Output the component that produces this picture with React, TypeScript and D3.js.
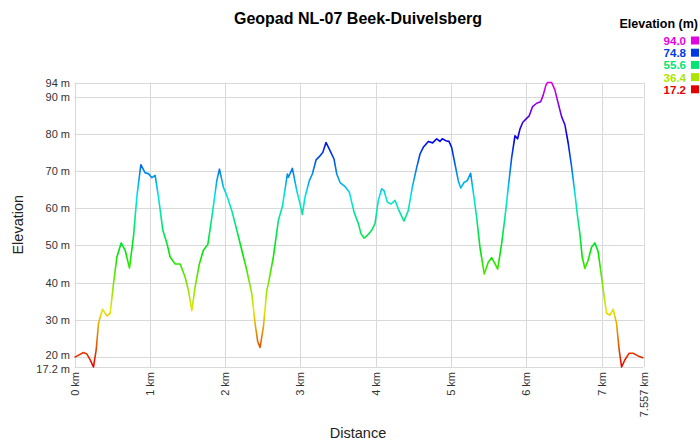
import * as d3 from "d3";

// distance along the route (km) and elevation (m)
const distances = [
  0.0, 0.119, 0.165, 0.208, 0.252, 0.288, 0.319, 0.372, 0.43, 0.474, 0.518, 0.563, 0.62, 0.673, 0.73,
  0.783, 0.828, 0.881, 0.938, 0.982, 1.027, 1.071, 1.115, 1.173, 1.226, 1.27, 1.337, 1.403, 1.469,
  1.513, 1.558, 1.602, 1.659, 1.712, 1.771, 1.824, 1.89, 1.925, 1.978, 2.023, 2.089, 2.156, 2.222,
  2.288, 2.355, 2.398, 2.434, 2.465, 2.509, 2.554, 2.575, 2.641, 2.708, 2.761, 2.827, 2.84, 2.894,
  2.952, 2.996, 3.026, 3.062, 3.119, 3.159, 3.208, 3.261, 3.297, 3.341, 3.394, 3.447, 3.483, 3.527,
  3.593, 3.65, 3.713, 3.77, 3.805, 3.845, 3.889, 3.947, 3.991, 4.035, 4.08, 4.111, 4.155, 4.204,
  4.257, 4.31, 4.376, 4.433, 4.486, 4.545, 4.589, 4.632, 4.699, 4.757, 4.81, 4.854, 4.885, 4.93,
  4.973, 5.009, 5.053, 5.097, 5.129, 5.173, 5.216, 5.261, 5.305, 5.341, 5.385, 5.442, 5.495, 5.54,
  5.584, 5.62, 5.673, 5.717, 5.761, 5.806, 5.85, 5.885, 5.916, 5.952, 5.995, 6.039, 6.084, 6.138,
  6.191, 6.225, 6.261, 6.283, 6.337, 6.38, 6.424, 6.469, 6.513, 6.557, 6.602, 6.646, 6.676, 6.712,
  6.743, 6.779, 6.822, 6.868, 6.911, 6.955, 7.0, 7.035, 7.067, 7.11, 7.154, 7.199, 7.234, 7.266,
  7.309, 7.366, 7.42, 7.486, 7.557,
];

const elevations = [
  19.8, 21.1, 20.7, 19.1, 17.2, 21.8, 29.0, 32.8, 31.0, 31.7, 39.7, 46.9, 50.7, 48.7, 43.9,
  52.3, 63.1, 71.8, 69.6, 69.4, 68.3, 68.9, 63.1, 54.1, 50.7, 46.9, 45.0, 45.0, 41.5,
  37.9, 32.4, 38.8, 45.1, 48.7, 50.3, 57.6, 67.5, 70.6, 65.7, 63.5, 59.4, 54.1, 48.7,
  43.3, 37.0, 29.0, 24.0, 22.5, 28.1, 37.9, 39.7, 46.9, 56.8, 60.5, 69.3, 68.4, 70.8,
  64.8, 61.2, 58.4, 63.1, 67.5, 69.3, 73.1, 74.2, 75.1, 77.8, 75.6, 73.3, 69.3, 67.0,
  65.9, 64.4, 59.0, 55.9, 53.2, 52.0, 52.7, 54.1, 55.9, 62.2, 65.3, 64.8, 61.7, 61.2,
  62.2, 59.4, 56.6, 59.4, 65.7, 71.1, 74.7, 76.5, 78.1, 77.7, 78.8, 78.1, 78.8, 78.3,
  78.1, 76.5, 72.0, 67.5, 65.5, 67.0, 67.5, 69.5, 63.1, 57.6, 49.5, 42.3, 45.5, 46.7,
  45.1, 43.6, 50.5, 57.6, 65.7, 73.7, 79.6, 78.8, 81.4, 83.2, 84.1, 85.0, 87.5, 88.4,
  88.8, 90.6, 93.3, 94.0, 94.0, 92.0, 88.4, 84.8, 82.6, 77.6, 71.3, 64.1, 58.7, 53.2,
  46.9, 43.8, 46.0, 49.6, 50.7, 48.3, 41.5, 36.1, 31.7, 31.2, 32.8, 29.0, 21.8, 17.2,
  19.1, 20.9, 20.9, 20.2, 19.6,
];

const yTicks = [20, 30, 40, 50, 60, 70, 80, 90];
const xTicks = [0, 1, 2, 3, 4, 5, 6, 7];
const legendValues = [94.0, 74.8, 55.6, 36.4, 17.2];

const minEle = 17.2;
const maxEle = 94;
const totalKm = 7.557;

const W = 700;
const H = 441;
const font = "'Liberation Sans', Arial, sans-serif";

export default function App() {
  const x = d3.scaleLinear().domain([0, totalKm]).range([74.5, 643.5]);
  const y = d3.scaleLinear().domain([minEle, maxEle]).range([367, 82.5]);

  // hue runs red -> yellow -> green -> cyan -> blue -> magenta with elevation
  const hue = d3.scaleLinear().domain([minEle, maxEle]).range([0, 300]);
  const colorOf = (e: number) => d3.hsl(hue(e), 1, 0.45).formatHex();

  const pts = distances.map((d, i) => [d, elevations[i]] as [number, number]);
  const line = d3
    .line<[number, number]>()
    .x((d) => x(d[0]))
    .y((d) => y(d[1]));

  const stops = d3.range(0, 11).map((i) => minEle + ((maxEle - minEle) * i) / 10);
  const gridColor = "#d9d9d9";
  const snap = (v: number) => Math.round(v) + 0.5;

  // the two lowest labels sit close together; nudge them apart a little
  const labelShift = (t: number) => (t === 20 ? -1.5 : t === minEle ? 1.5 : 0);

  return (
    <svg width={W} height={H} style={{ position: "absolute", left: 0, top: 0, fontFamily: font }}>
      <defs>
        <linearGradient id="eleGrad" gradientUnits="userSpaceOnUse" x1={0} x2={0} y1={y(minEle)} y2={y(maxEle)}>
          {stops.map((s, i) => (
            <stop key={i} offset={i / 10} stopColor={colorOf(s)} />
          ))}
        </linearGradient>
      </defs>
      <rect width={W} height={H} fill="#fff" />

      {/* grid */}
      {[...yTicks, maxEle, minEle].map((t) => (
        <line key={"gy" + t} x1={x(0)} x2={x(totalKm)} y1={snap(y(t))} y2={snap(y(t))} stroke={gridColor} />
      ))}
      {[...xTicks, totalKm].map((t) => (
        <line key={"gx" + t} x1={snap(x(t))} x2={snap(x(t))} y1={y(maxEle)} y2={y(minEle)} stroke={gridColor} />
      ))}

      {/* profile */}
      <path d={line(pts) || ""} fill="none" stroke="url(#eleGrad)" strokeWidth={1.6} strokeLinejoin="round" />

      {/* y tick labels */}
      {[...yTicks, maxEle, minEle].map((t) => (
        <text key={"ty" + t} x={70} y={y(t) + 4 + labelShift(t)} textAnchor="end" fontSize={11} fill="#333">
          {t} m
        </text>
      ))}

      {/* x tick labels */}
      {[...xTicks, totalKm].map((t) => (
        <text
          key={"tx" + t}
          transform={`translate(${x(t) + 4},372) rotate(-90)`}
          textAnchor="end"
          fontSize={11}
          fill="#333"
        >
          {t} km
        </text>
      ))}

      {/* titles */}
      <text x={358} y={24} textAnchor="middle" fontSize={16} fontWeight="bold" fill="#000">
        Geopad NL-07 Beek-Duivelsberg
      </text>
      <text x={358} y={438} textAnchor="middle" fontSize={14.5} fill="#222">
        Distance
      </text>
      <text transform={`translate(23,${(y(minEle) + y(maxEle)) / 2}) rotate(-90)`} textAnchor="middle" fontSize={14.5} fill="#222">
        Elevation
      </text>

      {/* legend */}
      <text x={698} y={28} textAnchor="end" fontSize={12.5} fontWeight="bold" fill="#000">
        Elevation (m)
      </text>
      {legendValues.map((v, i) => (
        <g key={"lg" + v}>
          <text x={686} y={45 + i * 12.2} textAnchor="end" fontSize={11.5} fontWeight="bold" fill={colorOf(v)}>
            {v.toFixed(1)}
          </text>
          <rect x={691} y={36.5 + i * 12.2} width={8} height={8} fill={colorOf(v)} />
        </g>
      ))}
    </svg>
  );
}
